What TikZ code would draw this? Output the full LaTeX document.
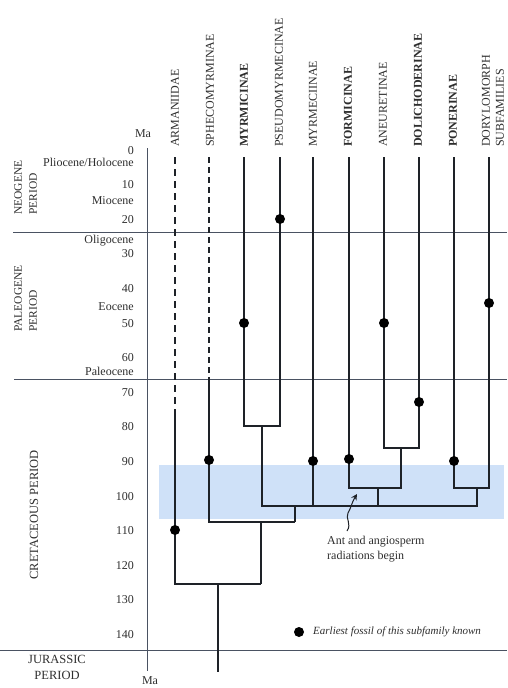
\documentclass[tikz,border=0pt]{standalone}
\usepackage{fontspec}
\setmainfont{Liberation Serif}
\usetikzlibrary{arrows.meta}
\definecolor{treecol}{HTML}{1E2228}
\definecolor{gridcol}{HTML}{4A5262}
\definecolor{labcol}{HTML}{2E2E2E}
\definecolor{bandcol}{HTML}{CFE1F8}
\begin{document}
\begin{tikzpicture}[x=1pt,y=-1pt,
  branch/.style={draw=treecol,line width=1.8pt,line join=miter},
  periodline/.style={draw=gridcol,line width=0.8pt},
  fossil/.style={circle,fill=black,inner sep=0pt,minimum size=10pt},
  taxon/.style={rotate=90,anchor=west,inner sep=0pt,text=labcol,font=\fontsize{12}{12}\selectfont},
  taxonb/.style={taxon,font=\fontsize{12}{12}\selectfont\bfseries},
  ageno/.style={anchor=east,inner sep=0pt,text=labcol,font=\fontsize{12}{12}\selectfont},
  perlab/.style={rotate=90,anchor=west,inner sep=0pt,text=labcol,font=\fontsize{11.5}{11.5}\selectfont},
  note/.style={inner sep=0pt,text=labcol,font=\fontsize{12}{14.5}\selectfont}]
\useasboundingbox (0,0) rectangle (507,688);
% band
\fill[bandcol] (159,465) rectangle (504,519);
% period lines and axis
\coordinate (n1) at (13,232); \coordinate (n2) at (507,232);
\coordinate (p1) at (14,379); \coordinate (p2) at (507,379);
\coordinate (j1) at (0,650); \coordinate (j2) at (507,650);
\coordinate (ax1) at (147,148); \coordinate (ax2) at (147,671);
\draw[periodline] (n1) -- (n2);
\draw[periodline] (p1) -- (p2);
\draw[periodline] (j1) -- (j2);
\draw[periodline] (ax1) -- (ax2);
\node[inner sep=0pt,text=labcol,font=\fontsize{12}{12}\selectfont] (maT) at (143,134) {Ma};
\node[inner sep=0pt,text=labcol,font=\fontsize{12}{12}\selectfont] (maB) at (150,681) {Ma};
% ages
\foreach \t/\yy in {0/151,10/185,20/220,30/254,40/289,50/324,60/358,70/393,80/427,90/462,100/497,110/531,120/566,130/600,140/635}{
  \node[ageno] (age\t) at (134,\yy) {\t};
}
\node[ageno] (ep1) at (134,162) {Pliocene/Holocene};
\node[ageno] (ep2) at (134,201) {Miocene};
\node[ageno] (ep3) at (134,241) {Oligocene};
\node[ageno] (ep4) at (134,307) {Eocene};
\node[ageno] (ep5) at (134,371) {Paleocene};
% period labels
\node[perlab] (neo1) at (18,215) {NEOGENE};
\node[perlab] (neo2) at (33,215) {PERIOD};
\node[perlab] (pal1) at (18,332) {PALEOGENE};
\node[perlab] (pal2) at (33,332) {PERIOD};
\node[perlab,anchor=center,font=\fontsize{12.5}{12.5}\selectfont] (cre) at (34,515) {CRETACEOUS PERIOD};
\node[inner sep=0pt,text=labcol,align=center,font=\fontsize{12.5}{16}\selectfont] (jur) at (57,667) {JURASSIC\\PERIOD};
% taxon labels
\node[taxon] (tA) at (175,147) {ARMANIIDAE};
\node[taxon] (tS) at (210,147) {SPHECOMYRMINAE};
\node[taxonb] (tMy) at (244,147) {MYRMICINAE};
\node[taxon] (tPs) at (279,147) {PSEUDOMYRMECINAE};
\node[taxon] (tMc) at (313,147) {MYRMECIINAE};
\node[taxonb] (tFo) at (348,147) {FORMICINAE};
\node[taxon] (tAn) at (383,147) {ANEURETINAE};
\node[taxonb] (tDo) at (418,147) {DOLICHODERINAE};
\node[taxonb] (tPo) at (453,147) {PONERINAE};
\node[taxon,align=left,font=\fontsize{12}{14}\selectfont] (tDr) at (493,147) {DORYLOMORPH\\SUBFAMILIES};
% tree coordinates
\coordinate (A0) at (175,157); \coordinate (A1) at (175,410); \coordinate (A2) at (175,584);
\coordinate (S0) at (209,157); \coordinate (S1) at (209,379); \coordinate (S2) at (209,522);
\coordinate (My0) at (244,157); \coordinate (My1) at (244,426);
\coordinate (Ps0) at (280,157); \coordinate (Ps1) at (280,426);
\coordinate (Mc0) at (313,157); \coordinate (Mc1) at (313,506);
\coordinate (Fo0) at (349,157); \coordinate (Fo1) at (349,488);
\coordinate (An0) at (384,157); \coordinate (An1) at (384,448);
\coordinate (Do0) at (419,157); \coordinate (Do1) at (419,448);
\coordinate (Po0) at (454,157); \coordinate (Po1) at (454,488);
\coordinate (Dr0) at (489,157); \coordinate (Dr1) at (489,488);
\coordinate (k1a) at (262,426); \coordinate (k1b) at (262,506);
\coordinate (k2a) at (401,448); \coordinate (k2b) at (401,488);
\coordinate (k3a) at (378,488); \coordinate (k3b) at (378,506);
\coordinate (k4a) at (477,488); \coordinate (k4b) at (477,506);
\coordinate (k5a) at (295,506); \coordinate (k5b) at (295,522);
\coordinate (k6a) at (261,522); \coordinate (k6b) at (261,584);
\coordinate (R0) at (218,584); \coordinate (R1) at (218,672);
% tree
\draw[branch,dash pattern=on 7pt off 5pt] (A0) -- (A1);
\draw[branch] (A1) -- (A2) -- (k6b);
\draw[branch,dash pattern=on 6pt off 4pt] (S0) -- (S1);
\draw[branch] (S1) -- (S2) -- (k5b);
\draw[branch] (My0) -- (My1) -- (Ps1) -- (Ps0);
\draw[branch] (k1a) -- (k1b) -- (k4b) -- (k4a);
\draw[branch] (Mc0) -- (Mc1);
\draw[branch] (Fo0) -- (Fo1) -- (k2b) -- (k2a);
\draw[branch] (An0) -- (An1) -- (Do1) -- (Do0);
\draw[branch] (k3a) -- (k3b);
\draw[branch] (Po0) -- (Po1) -- (Dr1) -- (Dr0);
\draw[branch] (k5a) -- (k5b);
\draw[branch] (k6a) -- (k6b);
\draw[branch] (R0) -- (R1);
% fossils
\node[fossil] (fA) at (175,530) {};
\node[fossil] (fS) at (209,460) {};
\node[fossil] (fMy) at (244,323) {};
\node[fossil] (fPs) at (280,219) {};
\node[fossil] (fMc) at (313,461) {};
\node[fossil] (fFo) at (349,459) {};
\node[fossil] (fAn) at (384,323) {};
\node[fossil] (fDo) at (419,402) {};
\node[fossil] (fPo) at (454,461) {};
\node[fossil] (fDr) at (489,303) {};
% annotation
\node[note,anchor=north west,align=left] (rad) at (327,536) {Ant and angiosperm\\radiations begin};
\coordinate (sq0) at (347,531);
\coordinate (sq1) at (357,494);
\draw[draw=treecol,line width=1pt,-{Stealth[length=6pt,width=6pt]}] (sq0) .. controls (352,524) and (345,518) .. (348,513) .. controls (351,508) and (352,502) .. (sq1);
% legend
\node[fossil] (lg) at (299,632) {};
\node[inner sep=0pt,anchor=west,text=labcol,font=\fontsize{11}{11}\selectfont\itshape] (lgt) at (313,632) {Earliest fossil of this subfamily known};
\end{tikzpicture}
\end{document}
